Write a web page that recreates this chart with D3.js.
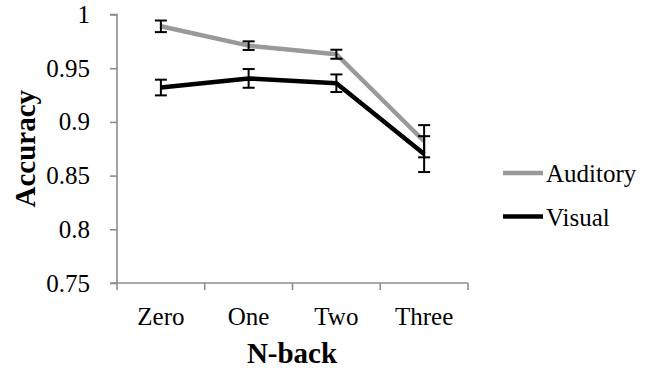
<!DOCTYPE html>
<html lang="en">
<head>
<meta charset="utf-8">
<title>N-back Accuracy</title>
<script src="https://cdn.jsdelivr.net/npm/d3@7"></script>
<style>
  body { margin: 0; background: #fff; }
</style>
</head>
<body>
<div id="chart"></div>
<script>
// values
const categories = ["Zero", "One", "Two", "Three"];
const auditory = [0.989, 0.971, 0.963, 0.882];
const auditoryErr = [0.0054, 0.004, 0.0042, 0.015];
const visual = [0.932, 0.9405, 0.936, 0.870];
const visualErr = [0.0073, 0.0087, 0.0082, 0.0167];
const yTicks = [0.75, 0.8, 0.85, 0.9, 0.95, 1];

const w = 656, h = 373;
const plotLeft = 117, plotRight = 468, plotTop = 14.5, plotBottom = 283;
const axisColor = "#8c8c8c";
const serif = "'Liberation Serif', 'Times New Roman', Times, serif";

const svg = d3.select("#chart").append("svg")
  .attr("width", w)
  .attr("height", h)
  .attr("font-family", serif);

let xScale = d3.scaleBand()
  .domain(categories)
  .range([plotLeft, plotRight]);

let yScale = d3.scaleLinear()
  .domain([0.75, 1])
  .range([plotBottom, plotTop]);

// y axis
let yAxis = d3.axisLeft(yScale)
  .tickValues(yTicks)
  .tickSize(7)
  .tickPadding(20)
  .tickFormat(d => String(+d.toFixed(2)));

let yg = svg.append("g")
  .attr("transform", `translate(${plotLeft},0)`)
  .call(yAxis);

// x axis: labels centred in bands, ticks on band edges
let xAxis = d3.axisBottom(xScale)
  .tickSize(0)
  .tickPadding(24);

let xg = svg.append("g")
  .attr("transform", `translate(0,${plotBottom})`)
  .call(xAxis);

let edges = categories.map(c => xScale(c)).concat([xScale.range()[1]]);
xg.selectAll(".edge")
  .data(edges)
  .enter()
  .append("line")
    .attr("class", "edge")
    .attr("x1", d => d).attr("x2", d => d)
    .attr("y1", 0).attr("y2", 7);

svg.selectAll(".domain, .tick line, .edge")
  .attr("stroke", axisColor)
  .attr("stroke-width", 1.6);
yg.select(".domain").attr("d", `M-7,${plotTop}H0V${plotBottom}H-7`);
xg.select(".domain").attr("d", `M${plotLeft},0H${plotRight}`);

svg.selectAll(".tick text")
  .style("font-family", serif)
  .style("font-size", "25px")
  .attr("fill", "#000");

// axis titles
svg.append("text")
  .attr("x", 292)
  .attr("y", 363)
  .attr("text-anchor", "middle")
  .style("font-family", serif)
  .style("font-size", "29px")
  .style("font-weight", "bold")
  .text("N-back");

svg.append("text")
  .attr("transform", `translate(35,${(plotTop + plotBottom) / 2}) rotate(-90)`)
  .attr("text-anchor", "middle")
  .style("font-family", serif)
  .style("font-size", "29px")
  .style("font-weight", "bold")
  .text("Accuracy");

// lines
const cx = c => xScale(c) + xScale.bandwidth() / 2;
const series = [
  { name: "Auditory", values: auditory, err: auditoryErr, color: "#999999" },
  { name: "Visual", values: visual, err: visualErr, color: "#000000" }
];

let line = d3.line()
  .x((d, i) => cx(categories[i]))
  .y(d => yScale(d));

series.forEach(s => {
  svg.append("path")
    .datum(s.values)
    .attr("fill", "none")
    .attr("stroke", s.color)
    .attr("stroke-width", 4.5)
    .attr("stroke-linejoin", "round")
    .attr("d", line);
});

// error bars
series.forEach(s => {
  let g = svg.append("g")
    .attr("stroke", "#000")
    .attr("stroke-width", 2);
  s.values.forEach((v, i) => {
    let x = cx(categories[i]);
    let y1 = yScale(v + s.err[i]), y2 = yScale(v - s.err[i]);
    g.append("line").attr("x1", x).attr("x2", x).attr("y1", y1).attr("y2", y2);
    g.append("line").attr("x1", x - 6).attr("x2", x + 6).attr("y1", y1).attr("y2", y1);
    g.append("line").attr("x1", x - 6).attr("x2", x + 6).attr("y1", y2).attr("y2", y2);
  });
});

// legend
let legend = svg.selectAll(".legend")
  .data(series)
  .enter()
  .append("g")
    .attr("class", "legend")
    .attr("transform", (d, i) => `translate(503,${173 + i * 43.5})`);

legend.append("line")
  .attr("x1", 0).attr("x2", 40)
  .attr("stroke", d => d.color)
  .attr("stroke-width", 4.5);

legend.append("text")
  .attr("x", 43)
  .attr("y", 9)
  .style("font-family", serif)
  .style("font-size", "25px")
  .text(d => d.name);
</script>
</body>
</html>
